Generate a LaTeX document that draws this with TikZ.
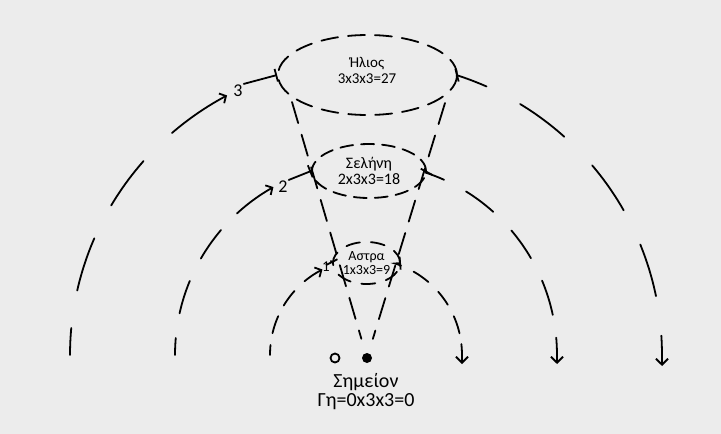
\documentclass[tikz,border=0pt]{standalone}
\usepackage{fontspec}
\setmainfont{Carlito}
\usetikzlibrary{arrows.meta,shapes.geometric}
\definecolor{bgc}{RGB}{236,236,236}
\begin{document}
\begin{tikzpicture}[x=1pt,y=-1pt,
  stroke/.style={line width=1.8pt, line cap=round},
  ring/.style={draw, ellipse, stroke, inner sep=0pt},
  lbl/.style={font=\fontsize{15}{16}\selectfont, align=center, inner sep=0pt},
  num/.style={font=\fontsize{18}{18}\selectfont, inner sep=1pt},
  tipL/.style={-{Straight Barb[length=5pt,width=11pt]}},
  tipR/.style={{Bar[width=13pt]}-{Straight Barb[length=6pt,width=12pt]}},
  tipB/.style={-{Bar[width=13pt]}}
]
\fill[bgc] (0,0) rectangle (721,434);
\useasboundingbox (0,0) rectangle (721,434);

% ellipses
\node[ring, minimum width=179pt, minimum height=80pt, dash pattern=on 17pt off 10pt] (sun) at (367.5,75) {};
\node[lbl] (sunlbl) at (367,70) {Ήλιος\\3x3x3=27};
\node[ring, lbl, font=\fontsize{16}{16}\selectfont, minimum width=114pt, minimum height=54pt, dash pattern=on 13pt off 8pt] (moon) at (369,171) {Σελήνη\\2x3x3=18};
\node[ring, minimum width=57pt, minimum height=42pt, dash pattern=on 14pt off 11pt, font=\fontsize{14}{14.5}\selectfont, align=center] (stars) at (366.5,263) {Αστρα\\1x3x3=9};

% earth
\node[circle, fill=black, inner sep=0pt, minimum size=10pt] (earth) at (367,358) {};
\node[circle, draw, stroke, inner sep=0pt, minimum size=9pt] (point) at (335,358) {};
\node[font=\fontsize{20}{19}\selectfont, align=center, inner sep=0pt] (earthlbl) at (366,392) {Σημείον\\Γη=0x3x3=0};

% cone
\coordinate (cL) at (292,102);
\coordinate (cR) at (445,103);
\draw[stroke, dash pattern=on 22pt off 12pt, shorten >=20pt] (cL) -- (earth.center);
\draw[stroke, dash pattern=on 22pt off 12pt, shorten >=20pt] (cR) -- (earth.center);

% outer orbit
\coordinate (L3) at (70,355);
\coordinate (R3) at (662,366);
\draw[stroke, tipL, dash pattern=on 27pt off 38pt on 55pt off 37pt on 55pt off 40pt on 70pt]
  (L3) -- plot[domain=180:118, samples=60, variable=\t] ({366+296*cos(\t)},{355-294*sin(\t)});
\node[num] (n3) at (238,91) {3};
\draw[stroke, tipB] (n3.north east) -- (sun.west);
\draw[stroke, tipR, dash pattern=on 32pt off 38pt on 55pt off 40pt on 55pt off 38pt on 54pt off 40pt on 45pt]
  (sun.east) -- plot[domain=72.1:0, samples=60, variable=\t] ({366+296*cos(\t)},{355-294*sin(\t)}) -- (R3);

% middle orbit
\coordinate (L2) at (175,355);
\coordinate (R2) at (557,364);
\draw[stroke, tipL, dash pattern=on 17pt off 25pt on 34pt off 25pt on 35pt off 23pt on 45pt]
  (L2) -- plot[domain=180:119, samples=50, variable=\t] ({366+191*cos(\t)},{355-192*sin(\t)});
\node[num] (n2) at (283,187) {2};
\draw[stroke, tipB] (n2.north east) -- (moon.west);
\draw[stroke, tipR, dash pattern=on 20pt off 25pt on 34pt off 26pt on 34pt off 25pt on 36pt off 23pt on 35pt]
  (moon.east) -- plot[domain=71.7:0, samples=50, variable=\t] ({366+191*cos(\t)},{355-192*sin(\t)}) -- (R2);

% inner orbit
\coordinate (L1) at (270,355);
\coordinate (R1) at (462,364);
\draw[stroke, tipL, dash pattern=on 10pt off 12pt on 18pt off 12pt on 18pt off 14pt on 30pt]
  (L1) -- plot[domain=180:117, samples=40, variable=\t] ({366+96*cos(\t)},{355-96*sin(\t)});
\node[num, font=\fontsize{15}{15}\selectfont] (n1) at (326,267) {1};
\draw[stroke, tipB] (n1.north east) -- (stars.west);
\draw[stroke, tipR, dash pattern=on 11pt off 14pt on 18pt off 14pt on 16pt off 13pt on 18pt off 11pt on 25pt]
  (stars.east) -- plot[domain=72.4:0, samples=40, variable=\t] ({366+96*cos(\t)},{355-96*sin(\t)}) -- (R1);
\end{tikzpicture}
\end{document}
